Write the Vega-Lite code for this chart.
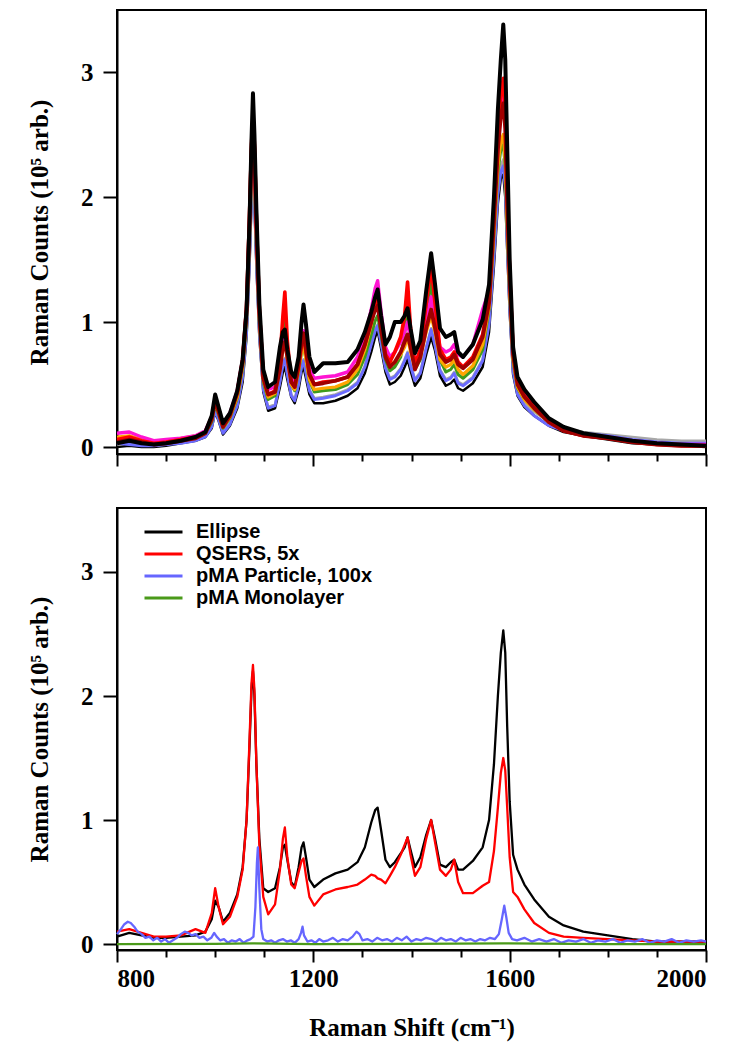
{
  "$schema": "https://vega.github.io/schema/vega-lite/v6.json",
  "background": "white",
  "padding": {"left": 26, "top": 9, "right": 20, "bottom": 4},
  "spacing": 39,
  "resolve": {"scale": {"color": "independent", "strokeWidth": "independent"}, "legend": {"color": "independent"}},
  "datasets": {
    "A": [
      {"s":"K2","x":800,"y":0.00},{"s":"K2","x":825,"y":0.01},{"s":"K2","x":850,"y":0.00},{"s":"K2","x":875,"y":0.00},{"s":"K2","x":900,"y":0.01},{"s":"K2","x":930,"y":0.03},{"s":"K2","x":960,"y":0.05},{"s":"K2","x":980,"y":0.08},{"s":"K2","x":993,"y":0.15},{"s":"K2","x":1000,"y":0.28},
      {"s":"K2","x":1007,"y":0.21},{"s":"K2","x":1016,"y":0.10},{"s":"K2","x":1030,"y":0.17},{"s":"K2","x":1045,"y":0.31},{"s":"K2","x":1056,"y":0.52},{"s":"K2","x":1064,"y":0.88},{"s":"K2","x":1070,"y":1.45},{"s":"K2","x":1074,"y":1.95},{"s":"K2","x":1077,"y":2.15},{"s":"K2","x":1080,"y":1.95},
      {"s":"K2","x":1084,"y":1.45},{"s":"K2","x":1090,"y":0.88},{"s":"K2","x":1098,"y":0.44},{"s":"K2","x":1108,"y":0.29},{"s":"K2","x":1122,"y":0.31},{"s":"K2","x":1132,"y":0.48},{"s":"K2","x":1138,"y":0.60},{"s":"K2","x":1142,"y":0.64},{"s":"K2","x":1147,"y":0.54},{"s":"K2","x":1155,"y":0.40},
      {"s":"K2","x":1162,"y":0.35},{"s":"K2","x":1170,"y":0.46},{"s":"K2","x":1176,"y":0.60},{"s":"K2","x":1180,"y":0.64},{"s":"K2","x":1185,"y":0.55},{"s":"K2","x":1192,"y":0.42},{"s":"K2","x":1202,"y":0.35},{"s":"K2","x":1220,"y":0.35},{"s":"K2","x":1245,"y":0.37},{"s":"K2","x":1270,"y":0.41},
      {"s":"K2","x":1290,"y":0.47},{"s":"K2","x":1305,"y":0.59},{"s":"K2","x":1318,"y":0.76},{"s":"K2","x":1326,"y":0.88},{"s":"K2","x":1331,"y":0.93},{"s":"K2","x":1338,"y":0.79},{"s":"K2","x":1347,"y":0.60},{"s":"K2","x":1356,"y":0.50},{"s":"K2","x":1366,"y":0.52},{"s":"K2","x":1378,"y":0.57},
      {"s":"K2","x":1386,"y":0.64},{"s":"K2","x":1392,"y":0.70},{"s":"K2","x":1398,"y":0.61},{"s":"K2","x":1407,"y":0.49},{"s":"K2","x":1418,"y":0.55},{"s":"K2","x":1430,"y":0.74},{"s":"K2","x":1440,"y":0.88},{"s":"K2","x":1448,"y":0.77},{"s":"K2","x":1458,"y":0.57},{"s":"K2","x":1470,"y":0.49},
      {"s":"K2","x":1480,"y":0.51},{"s":"K2","x":1487,"y":0.54},{"s":"K2","x":1495,"y":0.47},{"s":"K2","x":1505,"y":0.45},{"s":"K2","x":1525,"y":0.51},{"s":"K2","x":1545,"y":0.64},{"s":"K2","x":1558,"y":0.92},{"s":"K2","x":1568,"y":1.45},{"s":"K2","x":1576,"y":1.95},{"s":"K2","x":1582,"y":2.15},
      {"s":"K2","x":1587,"y":2.18},{"s":"K2","x":1591,"y":2.00},{"s":"K2","x":1595,"y":1.58},{"s":"K2","x":1600,"y":1.08},{"s":"K2","x":1607,"y":0.58},{"s":"K2","x":1616,"y":0.41},{"s":"K2","x":1630,"y":0.32},{"s":"K2","x":1650,"y":0.25},{"s":"K2","x":1680,"y":0.17},{"s":"K2","x":1710,"y":0.12},
      {"s":"K2","x":1750,"y":0.09},{"s":"K2","x":1800,"y":0.06},{"s":"K2","x":1850,"y":0.03},{"s":"K2","x":1900,"y":0.02},{"s":"K2","x":1950,"y":0.01},{"s":"K2","x":2000,"y":0.00},

      {"s":"G","x":800,"y":0.02},{"s":"G","x":825,"y":0.03},{"s":"G","x":850,"y":0.02},{"s":"G","x":875,"y":0.01},{"s":"G","x":900,"y":0.02},{"s":"G","x":930,"y":0.04},{"s":"G","x":960,"y":0.06},{"s":"G","x":980,"y":0.09},{"s":"G","x":993,"y":0.17},{"s":"G","x":1000,"y":0.30},
      {"s":"G","x":1007,"y":0.23},{"s":"G","x":1016,"y":0.12},{"s":"G","x":1030,"y":0.19},{"s":"G","x":1045,"y":0.34},{"s":"G","x":1056,"y":0.57},{"s":"G","x":1064,"y":0.93},{"s":"G","x":1070,"y":1.55},{"s":"G","x":1074,"y":2.05},{"s":"G","x":1077,"y":2.22},{"s":"G","x":1080,"y":2.02},
      {"s":"G","x":1084,"y":1.52},{"s":"G","x":1090,"y":0.93},{"s":"G","x":1098,"y":0.47},{"s":"G","x":1108,"y":0.32},{"s":"G","x":1122,"y":0.34},{"s":"G","x":1132,"y":0.53},{"s":"G","x":1138,"y":0.67},{"s":"G","x":1142,"y":0.71},{"s":"G","x":1147,"y":0.59},{"s":"G","x":1155,"y":0.42},
      {"s":"G","x":1162,"y":0.38},{"s":"G","x":1170,"y":0.51},{"s":"G","x":1176,"y":0.65},{"s":"G","x":1180,"y":0.70},{"s":"G","x":1185,"y":0.60},{"s":"G","x":1192,"y":0.46},{"s":"G","x":1202,"y":0.39},{"s":"G","x":1220,"y":0.40},{"s":"G","x":1245,"y":0.42},{"s":"G","x":1270,"y":0.46},
      {"s":"G","x":1290,"y":0.52},{"s":"G","x":1305,"y":0.65},{"s":"G","x":1318,"y":0.83},{"s":"G","x":1326,"y":0.94},{"s":"G","x":1331,"y":0.98},{"s":"G","x":1338,"y":0.84},{"s":"G","x":1347,"y":0.64},{"s":"G","x":1356,"y":0.55},{"s":"G","x":1366,"y":0.57},{"s":"G","x":1378,"y":0.63},
      {"s":"G","x":1386,"y":0.70},{"s":"G","x":1392,"y":0.76},{"s":"G","x":1398,"y":0.66},{"s":"G","x":1407,"y":0.54},{"s":"G","x":1418,"y":0.60},{"s":"G","x":1430,"y":0.80},{"s":"G","x":1440,"y":0.95},{"s":"G","x":1448,"y":0.82},{"s":"G","x":1458,"y":0.62},{"s":"G","x":1470,"y":0.54},
      {"s":"G","x":1480,"y":0.56},{"s":"G","x":1487,"y":0.60},{"s":"G","x":1495,"y":0.52},{"s":"G","x":1505,"y":0.50},{"s":"G","x":1525,"y":0.56},{"s":"G","x":1545,"y":0.70},{"s":"G","x":1558,"y":1.00},{"s":"G","x":1568,"y":1.55},{"s":"G","x":1576,"y":2.05},{"s":"G","x":1582,"y":2.25},
      {"s":"G","x":1587,"y":2.30},{"s":"G","x":1591,"y":2.12},{"s":"G","x":1595,"y":1.66},{"s":"G","x":1600,"y":1.15},{"s":"G","x":1607,"y":0.64},{"s":"G","x":1616,"y":0.45},{"s":"G","x":1630,"y":0.36},{"s":"G","x":1650,"y":0.28},{"s":"G","x":1680,"y":0.20},{"s":"G","x":1710,"y":0.15},
      {"s":"G","x":1750,"y":0.12},{"s":"G","x":1800,"y":0.10},{"s":"G","x":1850,"y":0.08},{"s":"G","x":1900,"y":0.06},{"s":"G","x":1950,"y":0.05},{"s":"G","x":2000,"y":0.05},

      {"s":"B","x":800,"y":0.03},{"s":"B","x":825,"y":0.02},{"s":"B","x":850,"y":0.01},{"s":"B","x":875,"y":0.01},{"s":"B","x":900,"y":0.02},{"s":"B","x":930,"y":0.03},{"s":"B","x":960,"y":0.05},{"s":"B","x":980,"y":0.08},{"s":"B","x":993,"y":0.16},{"s":"B","x":1000,"y":0.29},
      {"s":"B","x":1007,"y":0.22},{"s":"B","x":1016,"y":0.11},{"s":"B","x":1030,"y":0.18},{"s":"B","x":1045,"y":0.33},{"s":"B","x":1056,"y":0.56},{"s":"B","x":1064,"y":0.92},{"s":"B","x":1070,"y":1.52},{"s":"B","x":1074,"y":2.00},{"s":"B","x":1077,"y":2.18},{"s":"B","x":1080,"y":1.98},
      {"s":"B","x":1084,"y":1.50},{"s":"B","x":1090,"y":0.92},{"s":"B","x":1098,"y":0.46},{"s":"B","x":1108,"y":0.31},{"s":"B","x":1122,"y":0.33},{"s":"B","x":1132,"y":0.52},{"s":"B","x":1138,"y":0.66},{"s":"B","x":1142,"y":0.70},{"s":"B","x":1147,"y":0.58},{"s":"B","x":1155,"y":0.41},
      {"s":"B","x":1162,"y":0.37},{"s":"B","x":1170,"y":0.50},{"s":"B","x":1176,"y":0.64},{"s":"B","x":1180,"y":0.69},{"s":"B","x":1185,"y":0.59},{"s":"B","x":1192,"y":0.45},{"s":"B","x":1202,"y":0.38},{"s":"B","x":1220,"y":0.39},{"s":"B","x":1245,"y":0.41},{"s":"B","x":1270,"y":0.45},
      {"s":"B","x":1290,"y":0.51},{"s":"B","x":1305,"y":0.64},{"s":"B","x":1318,"y":0.82},{"s":"B","x":1326,"y":0.93},{"s":"B","x":1331,"y":0.97},{"s":"B","x":1338,"y":0.83},{"s":"B","x":1347,"y":0.63},{"s":"B","x":1356,"y":0.54},{"s":"B","x":1366,"y":0.56},{"s":"B","x":1378,"y":0.62},
      {"s":"B","x":1386,"y":0.69},{"s":"B","x":1392,"y":0.75},{"s":"B","x":1398,"y":0.65},{"s":"B","x":1407,"y":0.53},{"s":"B","x":1418,"y":0.59},{"s":"B","x":1430,"y":0.79},{"s":"B","x":1440,"y":0.94},{"s":"B","x":1448,"y":0.81},{"s":"B","x":1458,"y":0.61},{"s":"B","x":1470,"y":0.53},
      {"s":"B","x":1480,"y":0.55},{"s":"B","x":1487,"y":0.59},{"s":"B","x":1495,"y":0.51},{"s":"B","x":1505,"y":0.49},{"s":"B","x":1525,"y":0.55},{"s":"B","x":1545,"y":0.69},{"s":"B","x":1558,"y":0.98},{"s":"B","x":1568,"y":1.52},{"s":"B","x":1576,"y":2.02},{"s":"B","x":1582,"y":2.20},
      {"s":"B","x":1587,"y":2.25},{"s":"B","x":1591,"y":2.08},{"s":"B","x":1595,"y":1.62},{"s":"B","x":1600,"y":1.12},{"s":"B","x":1607,"y":0.60},{"s":"B","x":1616,"y":0.42},{"s":"B","x":1630,"y":0.33},{"s":"B","x":1650,"y":0.25},{"s":"B","x":1680,"y":0.17},{"s":"B","x":1710,"y":0.13},
      {"s":"B","x":1750,"y":0.11},{"s":"B","x":1800,"y":0.09},{"s":"B","x":1850,"y":0.06},{"s":"B","x":1900,"y":0.04},{"s":"B","x":1950,"y":0.03},{"s":"B","x":2000,"y":0.03},

      {"s":"Gr","x":800,"y":0.05},{"s":"Gr","x":825,"y":0.06},{"s":"Gr","x":850,"y":0.04},{"s":"Gr","x":875,"y":0.03},{"s":"Gr","x":900,"y":0.04},{"s":"Gr","x":930,"y":0.06},{"s":"Gr","x":960,"y":0.08},{"s":"Gr","x":980,"y":0.11},{"s":"Gr","x":993,"y":0.20},{"s":"Gr","x":1000,"y":0.34},
      {"s":"Gr","x":1007,"y":0.26},{"s":"Gr","x":1016,"y":0.15},{"s":"Gr","x":1030,"y":0.23},{"s":"Gr","x":1045,"y":0.39},{"s":"Gr","x":1056,"y":0.63},{"s":"Gr","x":1064,"y":1.02},{"s":"Gr","x":1070,"y":1.65},{"s":"Gr","x":1074,"y":2.15},{"s":"Gr","x":1077,"y":2.35},{"s":"Gr","x":1080,"y":2.15},
      {"s":"Gr","x":1084,"y":1.62},{"s":"Gr","x":1090,"y":1.00},{"s":"Gr","x":1098,"y":0.52},{"s":"Gr","x":1108,"y":0.38},{"s":"Gr","x":1122,"y":0.41},{"s":"Gr","x":1132,"y":0.66},{"s":"Gr","x":1138,"y":0.92},{"s":"Gr","x":1142,"y":1.05},{"s":"Gr","x":1147,"y":0.78},{"s":"Gr","x":1155,"y":0.50},
      {"s":"Gr","x":1162,"y":0.45},{"s":"Gr","x":1170,"y":0.60},{"s":"Gr","x":1176,"y":0.76},{"s":"Gr","x":1180,"y":0.82},{"s":"Gr","x":1185,"y":0.70},{"s":"Gr","x":1192,"y":0.53},{"s":"Gr","x":1202,"y":0.44},{"s":"Gr","x":1220,"y":0.45},{"s":"Gr","x":1245,"y":0.46},{"s":"Gr","x":1270,"y":0.50},
      {"s":"Gr","x":1290,"y":0.58},{"s":"Gr","x":1305,"y":0.72},{"s":"Gr","x":1318,"y":0.90},{"s":"Gr","x":1326,"y":1.01},{"s":"Gr","x":1331,"y":1.05},{"s":"Gr","x":1338,"y":0.90},{"s":"Gr","x":1347,"y":0.70},{"s":"Gr","x":1356,"y":0.61},{"s":"Gr","x":1366,"y":0.64},{"s":"Gr","x":1378,"y":0.72},
      {"s":"Gr","x":1386,"y":0.90},{"s":"Gr","x":1392,"y":1.15},{"s":"Gr","x":1398,"y":0.88},{"s":"Gr","x":1407,"y":0.62},{"s":"Gr","x":1418,"y":0.70},{"s":"Gr","x":1430,"y":1.05},{"s":"Gr","x":1440,"y":1.32},{"s":"Gr","x":1448,"y":1.05},{"s":"Gr","x":1458,"y":0.70},{"s":"Gr","x":1470,"y":0.60},
      {"s":"Gr","x":1480,"y":0.62},{"s":"Gr","x":1487,"y":0.66},{"s":"Gr","x":1495,"y":0.58},{"s":"Gr","x":1505,"y":0.55},{"s":"Gr","x":1525,"y":0.62},{"s":"Gr","x":1545,"y":0.78},{"s":"Gr","x":1558,"y":1.10},{"s":"Gr","x":1568,"y":1.70},{"s":"Gr","x":1576,"y":2.20},{"s":"Gr","x":1582,"y":2.38},
      {"s":"Gr","x":1587,"y":2.42},{"s":"Gr","x":1591,"y":2.25},{"s":"Gr","x":1595,"y":1.75},{"s":"Gr","x":1600,"y":1.22},{"s":"Gr","x":1607,"y":0.68},{"s":"Gr","x":1616,"y":0.47},{"s":"Gr","x":1630,"y":0.38},{"s":"Gr","x":1650,"y":0.30},{"s":"Gr","x":1680,"y":0.20},{"s":"Gr","x":1710,"y":0.14},
      {"s":"Gr","x":1750,"y":0.10},{"s":"Gr","x":1800,"y":0.08},{"s":"Gr","x":1850,"y":0.05},{"s":"Gr","x":1900,"y":0.03},{"s":"Gr","x":1950,"y":0.02},{"s":"Gr","x":2000,"y":0.02},

      {"s":"O","x":800,"y":0.08},{"s":"O","x":825,"y":0.09},{"s":"O","x":850,"y":0.06},{"s":"O","x":875,"y":0.04},{"s":"O","x":900,"y":0.05},{"s":"O","x":930,"y":0.07},{"s":"O","x":960,"y":0.09},{"s":"O","x":980,"y":0.12},{"s":"O","x":993,"y":0.22},{"s":"O","x":1000,"y":0.36},
      {"s":"O","x":1007,"y":0.27},{"s":"O","x":1016,"y":0.16},{"s":"O","x":1030,"y":0.24},{"s":"O","x":1045,"y":0.40},{"s":"O","x":1056,"y":0.65},{"s":"O","x":1064,"y":1.05},{"s":"O","x":1070,"y":1.70},{"s":"O","x":1074,"y":2.20},{"s":"O","x":1077,"y":2.40},{"s":"O","x":1080,"y":2.20},
      {"s":"O","x":1084,"y":1.66},{"s":"O","x":1090,"y":1.02},{"s":"O","x":1098,"y":0.54},{"s":"O","x":1108,"y":0.40},{"s":"O","x":1122,"y":0.43},{"s":"O","x":1132,"y":0.62},{"s":"O","x":1138,"y":0.80},{"s":"O","x":1142,"y":0.85},{"s":"O","x":1147,"y":0.70},{"s":"O","x":1155,"y":0.50},
      {"s":"O","x":1162,"y":0.46},{"s":"O","x":1170,"y":0.62},{"s":"O","x":1176,"y":0.77},{"s":"O","x":1180,"y":0.82},{"s":"O","x":1185,"y":0.70},{"s":"O","x":1192,"y":0.54},{"s":"O","x":1202,"y":0.46},{"s":"O","x":1220,"y":0.47},{"s":"O","x":1245,"y":0.48},{"s":"O","x":1270,"y":0.52},
      {"s":"O","x":1290,"y":0.62},{"s":"O","x":1305,"y":0.78},{"s":"O","x":1318,"y":0.98},{"s":"O","x":1326,"y":1.14},{"s":"O","x":1331,"y":1.20},{"s":"O","x":1338,"y":1.00},{"s":"O","x":1347,"y":0.76},{"s":"O","x":1356,"y":0.66},{"s":"O","x":1366,"y":0.68},{"s":"O","x":1378,"y":0.74},
      {"s":"O","x":1386,"y":0.80},{"s":"O","x":1392,"y":0.88},{"s":"O","x":1398,"y":0.76},{"s":"O","x":1407,"y":0.64},{"s":"O","x":1418,"y":0.72},{"s":"O","x":1430,"y":0.92},{"s":"O","x":1440,"y":1.05},{"s":"O","x":1448,"y":0.92},{"s":"O","x":1458,"y":0.70},{"s":"O","x":1470,"y":0.64},
      {"s":"O","x":1480,"y":0.66},{"s":"O","x":1487,"y":0.70},{"s":"O","x":1495,"y":0.62},{"s":"O","x":1505,"y":0.58},{"s":"O","x":1525,"y":0.65},{"s":"O","x":1545,"y":0.82},{"s":"O","x":1558,"y":1.12},{"s":"O","x":1568,"y":1.72},{"s":"O","x":1576,"y":2.25},{"s":"O","x":1582,"y":2.45},
      {"s":"O","x":1587,"y":2.50},{"s":"O","x":1591,"y":2.30},{"s":"O","x":1595,"y":1.80},{"s":"O","x":1600,"y":1.25},{"s":"O","x":1607,"y":0.70},{"s":"O","x":1616,"y":0.48},{"s":"O","x":1630,"y":0.38},{"s":"O","x":1650,"y":0.30},{"s":"O","x":1680,"y":0.20},{"s":"O","x":1710,"y":0.14},
      {"s":"O","x":1750,"y":0.10},{"s":"O","x":1800,"y":0.08},{"s":"O","x":1850,"y":0.05},{"s":"O","x":1900,"y":0.03},{"s":"O","x":1950,"y":0.02},{"s":"O","x":2000,"y":0.02},

      {"s":"M","x":800,"y":0.11},{"s":"M","x":825,"y":0.12},{"s":"M","x":850,"y":0.08},{"s":"M","x":875,"y":0.05},{"s":"M","x":900,"y":0.06},{"s":"M","x":930,"y":0.07},{"s":"M","x":960,"y":0.09},{"s":"M","x":980,"y":0.13},{"s":"M","x":993,"y":0.24},{"s":"M","x":1000,"y":0.38},
      {"s":"M","x":1007,"y":0.29},{"s":"M","x":1016,"y":0.18},{"s":"M","x":1030,"y":0.27},{"s":"M","x":1045,"y":0.45},{"s":"M","x":1056,"y":0.70},{"s":"M","x":1064,"y":1.10},{"s":"M","x":1070,"y":1.78},{"s":"M","x":1074,"y":2.30},{"s":"M","x":1077,"y":2.50},{"s":"M","x":1080,"y":2.30},
      {"s":"M","x":1084,"y":1.74},{"s":"M","x":1090,"y":1.08},{"s":"M","x":1098,"y":0.58},{"s":"M","x":1108,"y":0.46},{"s":"M","x":1122,"y":0.48},{"s":"M","x":1132,"y":0.68},{"s":"M","x":1138,"y":0.84},{"s":"M","x":1142,"y":0.88},{"s":"M","x":1147,"y":0.74},{"s":"M","x":1155,"y":0.55},
      {"s":"M","x":1162,"y":0.50},{"s":"M","x":1170,"y":0.68},{"s":"M","x":1176,"y":0.86},{"s":"M","x":1180,"y":0.93},{"s":"M","x":1185,"y":0.80},{"s":"M","x":1192,"y":0.62},{"s":"M","x":1202,"y":0.55},{"s":"M","x":1220,"y":0.56},{"s":"M","x":1245,"y":0.57},{"s":"M","x":1270,"y":0.60},
      {"s":"M","x":1290,"y":0.72},{"s":"M","x":1305,"y":0.88},{"s":"M","x":1318,"y":1.10},{"s":"M","x":1326,"y":1.27},{"s":"M","x":1331,"y":1.33},{"s":"M","x":1338,"y":1.08},{"s":"M","x":1347,"y":0.80},{"s":"M","x":1356,"y":0.72},{"s":"M","x":1366,"y":0.76},{"s":"M","x":1378,"y":0.84},
      {"s":"M","x":1386,"y":0.92},{"s":"M","x":1392,"y":1.00},{"s":"M","x":1398,"y":0.86},{"s":"M","x":1407,"y":0.67},{"s":"M","x":1418,"y":0.76},{"s":"M","x":1430,"y":1.00},{"s":"M","x":1440,"y":1.20},{"s":"M","x":1448,"y":1.02},{"s":"M","x":1458,"y":0.80},{"s":"M","x":1470,"y":0.76},
      {"s":"M","x":1480,"y":0.78},{"s":"M","x":1487,"y":0.82},{"s":"M","x":1495,"y":0.74},{"s":"M","x":1505,"y":0.72},{"s":"M","x":1525,"y":0.82},{"s":"M","x":1545,"y":1.10},{"s":"M","x":1558,"y":1.25},{"s":"M","x":1568,"y":1.85},{"s":"M","x":1576,"y":2.40},{"s":"M","x":1582,"y":2.70},
      {"s":"M","x":1587,"y":2.85},{"s":"M","x":1591,"y":2.62},{"s":"M","x":1595,"y":2.00},{"s":"M","x":1600,"y":1.38},{"s":"M","x":1607,"y":0.75},{"s":"M","x":1616,"y":0.52},{"s":"M","x":1630,"y":0.42},{"s":"M","x":1650,"y":0.33},{"s":"M","x":1680,"y":0.21},{"s":"M","x":1710,"y":0.14},
      {"s":"M","x":1750,"y":0.10},{"s":"M","x":1800,"y":0.08},{"s":"M","x":1850,"y":0.05},{"s":"M","x":1900,"y":0.03},{"s":"M","x":1950,"y":0.02},{"s":"M","x":2000,"y":0.02},

      {"s":"R","x":800,"y":0.06},{"s":"R","x":825,"y":0.08},{"s":"R","x":850,"y":0.05},{"s":"R","x":875,"y":0.03},{"s":"R","x":900,"y":0.04},{"s":"R","x":930,"y":0.06},{"s":"R","x":960,"y":0.08},{"s":"R","x":980,"y":0.12},{"s":"R","x":993,"y":0.24},{"s":"R","x":1000,"y":0.38},
      {"s":"R","x":1007,"y":0.29},{"s":"R","x":1016,"y":0.17},{"s":"R","x":1030,"y":0.26},{"s":"R","x":1045,"y":0.44},{"s":"R","x":1056,"y":0.70},{"s":"R","x":1064,"y":1.12},{"s":"R","x":1070,"y":1.85},{"s":"R","x":1074,"y":2.42},{"s":"R","x":1077,"y":2.65},{"s":"R","x":1080,"y":2.42},
      {"s":"R","x":1084,"y":1.82},{"s":"R","x":1090,"y":1.10},{"s":"R","x":1098,"y":0.56},{"s":"R","x":1108,"y":0.42},{"s":"R","x":1122,"y":0.45},{"s":"R","x":1132,"y":0.70},{"s":"R","x":1138,"y":1.05},{"s":"R","x":1142,"y":1.24},{"s":"R","x":1147,"y":0.85},{"s":"R","x":1155,"y":0.52},
      {"s":"R","x":1162,"y":0.48},{"s":"R","x":1170,"y":0.64},{"s":"R","x":1176,"y":0.82},{"s":"R","x":1180,"y":0.90},{"s":"R","x":1185,"y":0.76},{"s":"R","x":1192,"y":0.58},{"s":"R","x":1202,"y":0.50},{"s":"R","x":1220,"y":0.52},{"s":"R","x":1245,"y":0.53},{"s":"R","x":1270,"y":0.56},
      {"s":"R","x":1290,"y":0.66},{"s":"R","x":1305,"y":0.82},{"s":"R","x":1318,"y":1.00},{"s":"R","x":1326,"y":1.13},{"s":"R","x":1331,"y":1.18},{"s":"R","x":1338,"y":0.98},{"s":"R","x":1347,"y":0.74},{"s":"R","x":1356,"y":0.68},{"s":"R","x":1366,"y":0.76},{"s":"R","x":1378,"y":0.88},
      {"s":"R","x":1386,"y":1.05},{"s":"R","x":1392,"y":1.32},{"s":"R","x":1398,"y":0.95},{"s":"R","x":1407,"y":0.66},{"s":"R","x":1418,"y":0.78},{"s":"R","x":1430,"y":1.15},{"s":"R","x":1440,"y":1.45},{"s":"R","x":1448,"y":1.15},{"s":"R","x":1458,"y":0.78},{"s":"R","x":1470,"y":0.70},
      {"s":"R","x":1480,"y":0.72},{"s":"R","x":1487,"y":0.76},{"s":"R","x":1495,"y":0.68},{"s":"R","x":1505,"y":0.64},{"s":"R","x":1525,"y":0.72},{"s":"R","x":1545,"y":0.90},{"s":"R","x":1558,"y":1.20},{"s":"R","x":1568,"y":1.90},{"s":"R","x":1576,"y":2.50},{"s":"R","x":1582,"y":2.82},
      {"s":"R","x":1587,"y":2.95},{"s":"R","x":1591,"y":2.70},{"s":"R","x":1595,"y":2.05},{"s":"R","x":1600,"y":1.40},{"s":"R","x":1607,"y":0.76},{"s":"R","x":1616,"y":0.52},{"s":"R","x":1630,"y":0.41},{"s":"R","x":1650,"y":0.32},{"s":"R","x":1680,"y":0.20},{"s":"R","x":1710,"y":0.13},
      {"s":"R","x":1750,"y":0.09},{"s":"R","x":1800,"y":0.07},{"s":"R","x":1850,"y":0.04},{"s":"R","x":1900,"y":0.02},{"s":"R","x":1950,"y":0.01},{"s":"R","x":2000,"y":0.01},

      {"s":"D","x":800,"y":0.04},{"s":"D","x":825,"y":0.06},{"s":"D","x":850,"y":0.04},{"s":"D","x":875,"y":0.02},{"s":"D","x":900,"y":0.03},{"s":"D","x":930,"y":0.05},{"s":"D","x":960,"y":0.07},{"s":"D","x":980,"y":0.11},{"s":"D","x":993,"y":0.22},{"s":"D","x":1000,"y":0.37},
      {"s":"D","x":1007,"y":0.28},{"s":"D","x":1016,"y":0.16},{"s":"D","x":1030,"y":0.25},{"s":"D","x":1045,"y":0.43},{"s":"D","x":1056,"y":0.68},{"s":"D","x":1064,"y":1.10},{"s":"D","x":1070,"y":1.82},{"s":"D","x":1074,"y":2.38},{"s":"D","x":1077,"y":2.60},{"s":"D","x":1080,"y":2.38},
      {"s":"D","x":1084,"y":1.78},{"s":"D","x":1090,"y":1.08},{"s":"D","x":1098,"y":0.55},{"s":"D","x":1108,"y":0.42},{"s":"D","x":1122,"y":0.44},{"s":"D","x":1132,"y":0.62},{"s":"D","x":1138,"y":0.80},{"s":"D","x":1142,"y":0.84},{"s":"D","x":1147,"y":0.72},{"s":"D","x":1155,"y":0.52},
      {"s":"D","x":1162,"y":0.48},{"s":"D","x":1170,"y":0.66},{"s":"D","x":1176,"y":0.85},{"s":"D","x":1180,"y":0.91},{"s":"D","x":1185,"y":0.78},{"s":"D","x":1192,"y":0.58},{"s":"D","x":1202,"y":0.50},{"s":"D","x":1220,"y":0.51},{"s":"D","x":1245,"y":0.53},{"s":"D","x":1270,"y":0.56},
      {"s":"D","x":1290,"y":0.66},{"s":"D","x":1305,"y":0.82},{"s":"D","x":1318,"y":1.00},{"s":"D","x":1326,"y":1.10},{"s":"D","x":1331,"y":1.13},{"s":"D","x":1338,"y":0.94},{"s":"D","x":1347,"y":0.72},{"s":"D","x":1356,"y":0.64},{"s":"D","x":1366,"y":0.68},{"s":"D","x":1378,"y":0.76},
      {"s":"D","x":1386,"y":0.84},{"s":"D","x":1392,"y":0.90},{"s":"D","x":1398,"y":0.80},{"s":"D","x":1407,"y":0.62},{"s":"D","x":1418,"y":0.72},{"s":"D","x":1430,"y":0.95},{"s":"D","x":1440,"y":1.10},{"s":"D","x":1448,"y":0.95},{"s":"D","x":1458,"y":0.74},{"s":"D","x":1470,"y":0.68},
      {"s":"D","x":1480,"y":0.70},{"s":"D","x":1487,"y":0.74},{"s":"D","x":1495,"y":0.66},{"s":"D","x":1505,"y":0.63},{"s":"D","x":1525,"y":0.70},{"s":"D","x":1545,"y":0.88},{"s":"D","x":1558,"y":1.15},{"s":"D","x":1568,"y":1.80},{"s":"D","x":1576,"y":2.38},{"s":"D","x":1582,"y":2.65},
      {"s":"D","x":1587,"y":2.75},{"s":"D","x":1591,"y":2.55},{"s":"D","x":1595,"y":1.95},{"s":"D","x":1600,"y":1.35},{"s":"D","x":1607,"y":0.74},{"s":"D","x":1616,"y":0.50},{"s":"D","x":1630,"y":0.40},{"s":"D","x":1650,"y":0.31},{"s":"D","x":1680,"y":0.20},{"s":"D","x":1710,"y":0.13},
      {"s":"D","x":1750,"y":0.09},{"s":"D","x":1800,"y":0.07},{"s":"D","x":1850,"y":0.04},{"s":"D","x":1900,"y":0.02},{"s":"D","x":1950,"y":0.01},{"s":"D","x":2000,"y":0.01},

      {"s":"K1","x":800,"y":0.03},{"s":"K1","x":825,"y":0.05},{"s":"K1","x":850,"y":0.03},{"s":"K1","x":875,"y":0.02},{"s":"K1","x":900,"y":0.03},{"s":"K1","x":930,"y":0.05},{"s":"K1","x":960,"y":0.08},{"s":"K1","x":980,"y":0.12},{"s":"K1","x":993,"y":0.25},{"s":"K1","x":1000,"y":0.42},
      {"s":"K1","x":1007,"y":0.32},{"s":"K1","x":1016,"y":0.19},{"s":"K1","x":1030,"y":0.27},{"s":"K1","x":1045,"y":0.45},{"s":"K1","x":1056,"y":0.70},{"s":"K1","x":1064,"y":1.10},{"s":"K1","x":1070,"y":1.80},{"s":"K1","x":1074,"y":2.45},{"s":"K1","x":1077,"y":2.83},{"s":"K1","x":1080,"y":2.50},
      {"s":"K1","x":1084,"y":1.90},{"s":"K1","x":1090,"y":1.15},{"s":"K1","x":1098,"y":0.62},{"s":"K1","x":1108,"y":0.48},{"s":"K1","x":1122,"y":0.52},{"s":"K1","x":1132,"y":0.80},{"s":"K1","x":1138,"y":0.92},{"s":"K1","x":1142,"y":0.94},{"s":"K1","x":1147,"y":0.78},{"s":"K1","x":1155,"y":0.60},
      {"s":"K1","x":1162,"y":0.56},{"s":"K1","x":1170,"y":0.72},{"s":"K1","x":1176,"y":1.00},{"s":"K1","x":1180,"y":1.14},{"s":"K1","x":1185,"y":0.98},{"s":"K1","x":1192,"y":0.72},{"s":"K1","x":1202,"y":0.60},{"s":"K1","x":1220,"y":0.67},{"s":"K1","x":1245,"y":0.67},{"s":"K1","x":1270,"y":0.68},
      {"s":"K1","x":1290,"y":0.78},{"s":"K1","x":1305,"y":0.92},{"s":"K1","x":1318,"y":1.08},{"s":"K1","x":1326,"y":1.20},{"s":"K1","x":1331,"y":1.26},{"s":"K1","x":1338,"y":1.05},{"s":"K1","x":1347,"y":0.82},{"s":"K1","x":1356,"y":0.88},{"s":"K1","x":1366,"y":1.00},{"s":"K1","x":1378,"y":1.00},
      {"s":"K1","x":1386,"y":1.05},{"s":"K1","x":1392,"y":1.11},{"s":"K1","x":1398,"y":0.95},{"s":"K1","x":1407,"y":0.75},{"s":"K1","x":1418,"y":0.85},{"s":"K1","x":1430,"y":1.25},{"s":"K1","x":1440,"y":1.55},{"s":"K1","x":1448,"y":1.30},{"s":"K1","x":1458,"y":0.95},{"s":"K1","x":1470,"y":0.88},
      {"s":"K1","x":1480,"y":0.90},{"s":"K1","x":1487,"y":0.92},{"s":"K1","x":1495,"y":0.76},{"s":"K1","x":1505,"y":0.72},{"s":"K1","x":1525,"y":0.82},{"s":"K1","x":1545,"y":1.02},{"s":"K1","x":1558,"y":1.30},{"s":"K1","x":1568,"y":2.00},{"s":"K1","x":1576,"y":2.70},{"s":"K1","x":1582,"y":3.10},
      {"s":"K1","x":1587,"y":3.38},{"s":"K1","x":1591,"y":3.10},{"s":"K1","x":1595,"y":2.40},{"s":"K1","x":1600,"y":1.50},{"s":"K1","x":1607,"y":0.80},{"s":"K1","x":1616,"y":0.56},{"s":"K1","x":1630,"y":0.46},{"s":"K1","x":1650,"y":0.36},{"s":"K1","x":1680,"y":0.23},{"s":"K1","x":1710,"y":0.16},
      {"s":"K1","x":1750,"y":0.11},{"s":"K1","x":1800,"y":0.08},{"s":"K1","x":1850,"y":0.05},{"s":"K1","x":1900,"y":0.03},{"s":"K1","x":1950,"y":0.02},{"s":"K1","x":2000,"y":0.01}
    ],
    "Bp": [
      {"s":"Ellipse","x":800,"y":0.06},{"s":"Ellipse","x":825,"y":0.09},{"s":"Ellipse","x":850,"y":0.07},{"s":"Ellipse","x":875,"y":0.05},{"s":"Ellipse","x":900,"y":0.05},{"s":"Ellipse","x":930,"y":0.06},{"s":"Ellipse","x":960,"y":0.07},{"s":"Ellipse","x":980,"y":0.10},{"s":"Ellipse","x":993,"y":0.20},{"s":"Ellipse","x":1000,"y":0.35},
      {"s":"Ellipse","x":1007,"y":0.30},{"s":"Ellipse","x":1016,"y":0.18},{"s":"Ellipse","x":1030,"y":0.25},{"s":"Ellipse","x":1045,"y":0.40},{"s":"Ellipse","x":1056,"y":0.62},{"s":"Ellipse","x":1064,"y":1.00},{"s":"Ellipse","x":1070,"y":1.60},{"s":"Ellipse","x":1074,"y":2.05},{"s":"Ellipse","x":1077,"y":2.20},{"s":"Ellipse","x":1080,"y":2.00},
      {"s":"Ellipse","x":1084,"y":1.45},{"s":"Ellipse","x":1090,"y":0.85},{"s":"Ellipse","x":1098,"y":0.45},{"s":"Ellipse","x":1108,"y":0.42},{"s":"Ellipse","x":1122,"y":0.45},{"s":"Ellipse","x":1132,"y":0.62},{"s":"Ellipse","x":1138,"y":0.78},{"s":"Ellipse","x":1142,"y":0.80},{"s":"Ellipse","x":1147,"y":0.68},{"s":"Ellipse","x":1155,"y":0.50},
      {"s":"Ellipse","x":1162,"y":0.46},{"s":"Ellipse","x":1170,"y":0.62},{"s":"Ellipse","x":1176,"y":0.78},{"s":"Ellipse","x":1180,"y":0.82},{"s":"Ellipse","x":1185,"y":0.70},{"s":"Ellipse","x":1192,"y":0.52},{"s":"Ellipse","x":1202,"y":0.46},{"s":"Ellipse","x":1220,"y":0.52},{"s":"Ellipse","x":1245,"y":0.57},{"s":"Ellipse","x":1270,"y":0.60},
      {"s":"Ellipse","x":1290,"y":0.66},{"s":"Ellipse","x":1305,"y":0.78},{"s":"Ellipse","x":1318,"y":0.98},{"s":"Ellipse","x":1326,"y":1.08},{"s":"Ellipse","x":1331,"y":1.10},{"s":"Ellipse","x":1338,"y":0.92},{"s":"Ellipse","x":1347,"y":0.68},{"s":"Ellipse","x":1356,"y":0.62},{"s":"Ellipse","x":1366,"y":0.66},{"s":"Ellipse","x":1378,"y":0.73},
      {"s":"Ellipse","x":1386,"y":0.78},{"s":"Ellipse","x":1392,"y":0.86},{"s":"Ellipse","x":1398,"y":0.76},{"s":"Ellipse","x":1407,"y":0.62},{"s":"Ellipse","x":1418,"y":0.70},{"s":"Ellipse","x":1430,"y":0.88},{"s":"Ellipse","x":1440,"y":1.00},{"s":"Ellipse","x":1448,"y":0.85},{"s":"Ellipse","x":1458,"y":0.64},{"s":"Ellipse","x":1470,"y":0.62},
      {"s":"Ellipse","x":1480,"y":0.66},{"s":"Ellipse","x":1487,"y":0.68},{"s":"Ellipse","x":1495,"y":0.60},{"s":"Ellipse","x":1505,"y":0.60},{"s":"Ellipse","x":1525,"y":0.67},{"s":"Ellipse","x":1545,"y":0.78},{"s":"Ellipse","x":1558,"y":1.00},{"s":"Ellipse","x":1568,"y":1.45},{"s":"Ellipse","x":1576,"y":2.00},{"s":"Ellipse","x":1582,"y":2.35},
      {"s":"Ellipse","x":1587,"y":2.53},{"s":"Ellipse","x":1591,"y":2.35},{"s":"Ellipse","x":1595,"y":1.75},{"s":"Ellipse","x":1600,"y":1.15},{"s":"Ellipse","x":1607,"y":0.72},{"s":"Ellipse","x":1616,"y":0.60},{"s":"Ellipse","x":1630,"y":0.48},{"s":"Ellipse","x":1650,"y":0.36},{"s":"Ellipse","x":1680,"y":0.22},{"s":"Ellipse","x":1710,"y":0.15},
      {"s":"Ellipse","x":1750,"y":0.10},{"s":"Ellipse","x":1800,"y":0.07},{"s":"Ellipse","x":1850,"y":0.04},{"s":"Ellipse","x":1900,"y":0.02},{"s":"Ellipse","x":1950,"y":0.02},{"s":"Ellipse","x":2000,"y":0.02},

      {"s":"QSERS, 5x","x":800,"y":0.10},{"s":"QSERS, 5x","x":825,"y":0.12},{"s":"QSERS, 5x","x":850,"y":0.09},{"s":"QSERS, 5x","x":875,"y":0.06},{"s":"QSERS, 5x","x":900,"y":0.06},{"s":"QSERS, 5x","x":930,"y":0.07},{"s":"QSERS, 5x","x":960,"y":0.12},{"s":"QSERS, 5x","x":980,"y":0.09},{"s":"QSERS, 5x","x":993,"y":0.25},{"s":"QSERS, 5x","x":1000,"y":0.45},
      {"s":"QSERS, 5x","x":1007,"y":0.30},{"s":"QSERS, 5x","x":1016,"y":0.16},{"s":"QSERS, 5x","x":1030,"y":0.22},{"s":"QSERS, 5x","x":1045,"y":0.38},{"s":"QSERS, 5x","x":1056,"y":0.60},{"s":"QSERS, 5x","x":1064,"y":1.00},{"s":"QSERS, 5x","x":1070,"y":1.65},{"s":"QSERS, 5x","x":1074,"y":2.10},{"s":"QSERS, 5x","x":1077,"y":2.25},{"s":"QSERS, 5x","x":1080,"y":2.05},
      {"s":"QSERS, 5x","x":1084,"y":1.45},{"s":"QSERS, 5x","x":1090,"y":0.80},{"s":"QSERS, 5x","x":1098,"y":0.38},{"s":"QSERS, 5x","x":1108,"y":0.24},{"s":"QSERS, 5x","x":1122,"y":0.32},{"s":"QSERS, 5x","x":1132,"y":0.60},{"s":"QSERS, 5x","x":1138,"y":0.85},{"s":"QSERS, 5x","x":1142,"y":0.94},{"s":"QSERS, 5x","x":1147,"y":0.70},{"s":"QSERS, 5x","x":1155,"y":0.48},
      {"s":"QSERS, 5x","x":1162,"y":0.45},{"s":"QSERS, 5x","x":1170,"y":0.58},{"s":"QSERS, 5x","x":1176,"y":0.67},{"s":"QSERS, 5x","x":1180,"y":0.69},{"s":"QSERS, 5x","x":1185,"y":0.55},{"s":"QSERS, 5x","x":1192,"y":0.38},{"s":"QSERS, 5x","x":1202,"y":0.31},{"s":"QSERS, 5x","x":1220,"y":0.40},{"s":"QSERS, 5x","x":1245,"y":0.44},{"s":"QSERS, 5x","x":1270,"y":0.46},
      {"s":"QSERS, 5x","x":1290,"y":0.48},{"s":"QSERS, 5x","x":1305,"y":0.52},{"s":"QSERS, 5x","x":1318,"y":0.56},{"s":"QSERS, 5x","x":1326,"y":0.55},{"s":"QSERS, 5x","x":1331,"y":0.53},{"s":"QSERS, 5x","x":1338,"y":0.52},{"s":"QSERS, 5x","x":1347,"y":0.49},{"s":"QSERS, 5x","x":1356,"y":0.55},{"s":"QSERS, 5x","x":1366,"y":0.62},{"s":"QSERS, 5x","x":1378,"y":0.72},
      {"s":"QSERS, 5x","x":1386,"y":0.80},{"s":"QSERS, 5x","x":1392,"y":0.86},{"s":"QSERS, 5x","x":1398,"y":0.72},{"s":"QSERS, 5x","x":1407,"y":0.55},{"s":"QSERS, 5x","x":1418,"y":0.62},{"s":"QSERS, 5x","x":1430,"y":0.85},{"s":"QSERS, 5x","x":1440,"y":1.00},{"s":"QSERS, 5x","x":1448,"y":0.82},{"s":"QSERS, 5x","x":1458,"y":0.60},{"s":"QSERS, 5x","x":1470,"y":0.55},
      {"s":"QSERS, 5x","x":1480,"y":0.60},{"s":"QSERS, 5x","x":1487,"y":0.68},{"s":"QSERS, 5x","x":1495,"y":0.50},{"s":"QSERS, 5x","x":1505,"y":0.41},{"s":"QSERS, 5x","x":1525,"y":0.41},{"s":"QSERS, 5x","x":1545,"y":0.47},{"s":"QSERS, 5x","x":1558,"y":0.50},{"s":"QSERS, 5x","x":1568,"y":0.75},{"s":"QSERS, 5x","x":1576,"y":1.10},{"s":"QSERS, 5x","x":1582,"y":1.38},
      {"s":"QSERS, 5x","x":1587,"y":1.50},{"s":"QSERS, 5x","x":1591,"y":1.40},{"s":"QSERS, 5x","x":1595,"y":1.10},{"s":"QSERS, 5x","x":1600,"y":0.70},{"s":"QSERS, 5x","x":1607,"y":0.42},{"s":"QSERS, 5x","x":1616,"y":0.38},{"s":"QSERS, 5x","x":1630,"y":0.28},{"s":"QSERS, 5x","x":1650,"y":0.17},{"s":"QSERS, 5x","x":1680,"y":0.09},{"s":"QSERS, 5x","x":1710,"y":0.06},
      {"s":"QSERS, 5x","x":1750,"y":0.05},{"s":"QSERS, 5x","x":1800,"y":0.04},{"s":"QSERS, 5x","x":1850,"y":0.03},{"s":"QSERS, 5x","x":1900,"y":0.02},{"s":"QSERS, 5x","x":1950,"y":0.02},{"s":"QSERS, 5x","x":2000,"y":0.02},

      {"s":"pMA Particle, 100x","x":800,"y":0.08},{"s":"pMA Particle, 100x","x":808,"y":0.12},{"s":"pMA Particle, 100x","x":815,"y":0.16},{"s":"pMA Particle, 100x","x":822,"y":0.18},{"s":"pMA Particle, 100x","x":828,"y":0.17},{"s":"pMA Particle, 100x","x":835,"y":0.14},{"s":"pMA Particle, 100x","x":842,"y":0.10},{"s":"pMA Particle, 100x","x":850,"y":0.08},{"s":"pMA Particle, 100x","x":858,"y":0.05},{"s":"pMA Particle, 100x","x":866,"y":0.06},
      {"s":"pMA Particle, 100x","x":874,"y":0.03},{"s":"pMA Particle, 100x","x":882,"y":0.05},{"s":"pMA Particle, 100x","x":890,"y":0.02},{"s":"pMA Particle, 100x","x":898,"y":0.04},{"s":"pMA Particle, 100x","x":906,"y":0.01},{"s":"pMA Particle, 100x","x":914,"y":0.03},{"s":"pMA Particle, 100x","x":922,"y":0.05},{"s":"pMA Particle, 100x","x":930,"y":0.08},{"s":"pMA Particle, 100x","x":938,"y":0.10},{"s":"pMA Particle, 100x","x":945,"y":0.09},
      {"s":"pMA Particle, 100x","x":952,"y":0.07},{"s":"pMA Particle, 100x","x":960,"y":0.08},{"s":"pMA Particle, 100x","x":968,"y":0.05},{"s":"pMA Particle, 100x","x":976,"y":0.06},{"s":"pMA Particle, 100x","x":984,"y":0.03},{"s":"pMA Particle, 100x","x":992,"y":0.05},{"s":"pMA Particle, 100x","x":998,"y":0.09},{"s":"pMA Particle, 100x","x":1003,"y":0.06},{"s":"pMA Particle, 100x","x":1010,"y":0.03},{"s":"pMA Particle, 100x","x":1018,"y":0.04},
      {"s":"pMA Particle, 100x","x":1026,"y":0.01},{"s":"pMA Particle, 100x","x":1034,"y":0.03},{"s":"pMA Particle, 100x","x":1042,"y":0.02},{"s":"pMA Particle, 100x","x":1050,"y":0.04},{"s":"pMA Particle, 100x","x":1058,"y":0.01},{"s":"pMA Particle, 100x","x":1066,"y":0.03},{"s":"pMA Particle, 100x","x":1072,"y":0.04},{"s":"pMA Particle, 100x","x":1078,"y":0.06},{"s":"pMA Particle, 100x","x":1082,"y":0.30},{"s":"pMA Particle, 100x","x":1085,"y":0.65},
      {"s":"pMA Particle, 100x","x":1087,"y":0.78},{"s":"pMA Particle, 100x","x":1090,"y":0.45},{"s":"pMA Particle, 100x","x":1094,"y":0.12},{"s":"pMA Particle, 100x","x":1098,"y":0.04},{"s":"pMA Particle, 100x","x":1106,"y":0.02},{"s":"pMA Particle, 100x","x":1114,"y":0.03},{"s":"pMA Particle, 100x","x":1122,"y":0.01},{"s":"pMA Particle, 100x","x":1130,"y":0.03},{"s":"pMA Particle, 100x","x":1138,"y":0.04},{"s":"pMA Particle, 100x","x":1146,"y":0.02},
      {"s":"pMA Particle, 100x","x":1154,"y":0.03},{"s":"pMA Particle, 100x","x":1162,"y":0.01},{"s":"pMA Particle, 100x","x":1170,"y":0.04},{"s":"pMA Particle, 100x","x":1175,"y":0.09},{"s":"pMA Particle, 100x","x":1178,"y":0.14},{"s":"pMA Particle, 100x","x":1181,"y":0.07},{"s":"pMA Particle, 100x","x":1188,"y":0.02},{"s":"pMA Particle, 100x","x":1196,"y":0.03},{"s":"pMA Particle, 100x","x":1204,"y":0.01},{"s":"pMA Particle, 100x","x":1212,"y":0.04},
      {"s":"pMA Particle, 100x","x":1220,"y":0.02},{"s":"pMA Particle, 100x","x":1230,"y":0.03},{"s":"pMA Particle, 100x","x":1240,"y":0.05},{"s":"pMA Particle, 100x","x":1250,"y":0.02},{"s":"pMA Particle, 100x","x":1260,"y":0.04},{"s":"pMA Particle, 100x","x":1270,"y":0.03},{"s":"pMA Particle, 100x","x":1280,"y":0.06},{"s":"pMA Particle, 100x","x":1288,"y":0.10},{"s":"pMA Particle, 100x","x":1294,"y":0.08},{"s":"pMA Particle, 100x","x":1300,"y":0.03},
      {"s":"pMA Particle, 100x","x":1310,"y":0.04},{"s":"pMA Particle, 100x","x":1320,"y":0.02},{"s":"pMA Particle, 100x","x":1330,"y":0.05},{"s":"pMA Particle, 100x","x":1340,"y":0.03},{"s":"pMA Particle, 100x","x":1350,"y":0.04},{"s":"pMA Particle, 100x","x":1360,"y":0.02},{"s":"pMA Particle, 100x","x":1370,"y":0.05},{"s":"pMA Particle, 100x","x":1380,"y":0.03},{"s":"pMA Particle, 100x","x":1390,"y":0.06},{"s":"pMA Particle, 100x","x":1400,"y":0.02},
      {"s":"pMA Particle, 100x","x":1410,"y":0.04},{"s":"pMA Particle, 100x","x":1420,"y":0.03},{"s":"pMA Particle, 100x","x":1430,"y":0.05},{"s":"pMA Particle, 100x","x":1440,"y":0.04},{"s":"pMA Particle, 100x","x":1450,"y":0.02},{"s":"pMA Particle, 100x","x":1460,"y":0.05},{"s":"pMA Particle, 100x","x":1470,"y":0.03},{"s":"pMA Particle, 100x","x":1480,"y":0.04},{"s":"pMA Particle, 100x","x":1490,"y":0.02},{"s":"pMA Particle, 100x","x":1500,"y":0.05},
      {"s":"pMA Particle, 100x","x":1510,"y":0.03},{"s":"pMA Particle, 100x","x":1520,"y":0.04},{"s":"pMA Particle, 100x","x":1530,"y":0.02},{"s":"pMA Particle, 100x","x":1540,"y":0.04},{"s":"pMA Particle, 100x","x":1550,"y":0.03},{"s":"pMA Particle, 100x","x":1560,"y":0.05},{"s":"pMA Particle, 100x","x":1570,"y":0.04},{"s":"pMA Particle, 100x","x":1578,"y":0.08},{"s":"pMA Particle, 100x","x":1584,"y":0.20},{"s":"pMA Particle, 100x","x":1589,"y":0.31},
      {"s":"pMA Particle, 100x","x":1593,"y":0.22},{"s":"pMA Particle, 100x","x":1598,"y":0.09},{"s":"pMA Particle, 100x","x":1605,"y":0.04},{"s":"pMA Particle, 100x","x":1615,"y":0.03},{"s":"pMA Particle, 100x","x":1630,"y":0.05},{"s":"pMA Particle, 100x","x":1645,"y":0.02},{"s":"pMA Particle, 100x","x":1660,"y":0.04},{"s":"pMA Particle, 100x","x":1675,"y":0.02},{"s":"pMA Particle, 100x","x":1690,"y":0.04},{"s":"pMA Particle, 100x","x":1705,"y":0.01},
      {"s":"pMA Particle, 100x","x":1720,"y":0.03},{"s":"pMA Particle, 100x","x":1735,"y":0.02},{"s":"pMA Particle, 100x","x":1750,"y":0.04},{"s":"pMA Particle, 100x","x":1765,"y":0.01},{"s":"pMA Particle, 100x","x":1780,"y":0.03},{"s":"pMA Particle, 100x","x":1795,"y":0.02},{"s":"pMA Particle, 100x","x":1810,"y":0.04},{"s":"pMA Particle, 100x","x":1825,"y":0.01},{"s":"pMA Particle, 100x","x":1840,"y":0.03},{"s":"pMA Particle, 100x","x":1855,"y":0.02},
      {"s":"pMA Particle, 100x","x":1870,"y":0.04},{"s":"pMA Particle, 100x","x":1885,"y":0.01},{"s":"pMA Particle, 100x","x":1900,"y":0.03},{"s":"pMA Particle, 100x","x":1915,"y":0.02},{"s":"pMA Particle, 100x","x":1930,"y":0.04},{"s":"pMA Particle, 100x","x":1945,"y":0.01},{"s":"pMA Particle, 100x","x":1960,"y":0.03},{"s":"pMA Particle, 100x","x":1975,"y":0.02},{"s":"pMA Particle, 100x","x":1990,"y":0.03},{"s":"pMA Particle, 100x","x":2000,"y":0.02},

      {"s":"pMA Monolayer","x":800,"y":0.0},{"s":"pMA Monolayer","x":1000,"y":0.002},{"s":"pMA Monolayer","x":1077,"y":0.006},{"s":"pMA Monolayer","x":1200,"y":0.0},{"s":"pMA Monolayer","x":1400,"y":0.002},{"s":"pMA Monolayer","x":1588,"y":0.006},{"s":"pMA Monolayer","x":1800,"y":0.0},{"s":"pMA Monolayer","x":2000,"y":0.0}
    ]
  },
  "vconcat": [
    {
      "width": 589,
      "height": 444,
      "layer": [
        {
          "data": {"name": "A"},
          "mark": {"type": "line", "strokeJoin": "round"},
          "encoding": {
            "x": {"field": "x", "type": "quantitative", "scale": {"domain": [800, 2000], "nice": false, "zero": false},
                  "axis": {"values": [800,900,1000,1100,1200,1300,1400,1500,1600,1700,1800,1900,2000], "labels": false, "title": null,
                           "tickSize": {"condition": {"test": "datum.value % 400 === 0", "value": 12}, "value": 7}}},
            "y": {"field": "y", "type": "quantitative", "scale": {"domain": [-0.056, 3.496], "nice": false, "zero": false},
                  "axis": {"values": [0,1,2,3], "format": "d", "title": "Raman Counts (10⁵ arb.)"}},
            "color": {"field": "s", "type": "nominal", "legend": null,
                      "scale": {"domain": ["K2","G","B","Gr","O","M","R","D","K1"], "range": ["#000000","#a8a8a8","#6b6bff","#3e9a1c","#ffa500","#ff14d2","#ff0000","#a00000","#000000"]}},
            "strokeWidth": {"field": "s", "type": "nominal", "legend": null,
                      "scale": {"domain": ["K2","G","B","Gr","O","M","R","D","K1"], "range": [2.5,4,2.5,2.5,2.5,2.5,2.5,2.5,2.5]}}
          }
        },
        {
          "mark": {"type": "text", "text": "(a)", "align": "right", "baseline": "middle", "font": "Liberation Serif", "fontWeight": "bold", "fontSize": 27, "color": "#000"},
          "encoding": {"x": {"datum": 1969}, "y": {"datum": 3.22}}
        }
      ]
    },
    {
      "width": 589,
      "height": 442,
      "layer": [
        {
          "data": {"name": "Bp"},
          "mark": {"type": "line", "strokeWidth": 2.3, "strokeJoin": "round"},
          "encoding": {
            "x": {"field": "x", "type": "quantitative", "scale": {"domain": [800, 2000], "nice": false, "zero": false},
                  "axis": {"values": [800,900,1000,1100,1200,1300,1400,1500,1600,1700,1800,1900,2000], "title": "Raman Shift (cm⁻¹)",
                           "labelExpr": "datum.value % 400 === 0 ? datum.label : ''", "format": "d", "labelPadding": 4, "titlePadding": 24,
                           "tickSize": {"condition": {"test": "datum.value % 400 === 0", "value": 12}, "value": 7}}},
            "y": {"field": "y", "type": "quantitative", "scale": {"domain": [-0.048, 3.516], "nice": false, "zero": false},
                  "axis": {"values": [0,1,2,3], "format": "d", "title": "Raman Counts (10⁵ arb.)"}},
            "color": {"field": "s", "type": "nominal",
                      "scale": {"domain": ["Ellipse","QSERS, 5x","pMA Particle, 100x","pMA Monolayer"], "range": ["#000000","#ff0000","#6666ff","#4a9a1a"]},
                      "legend": {"title": null, "orient": "none", "legendX": 26, "legendY": 15, "padding": 0,
                                 "symbolType": "stroke", "symbolStrokeWidth": 3, "symbolSize": 1444, "symbolOffset": 0,
                                 "labelFont": "Liberation Sans", "labelFontWeight": "bold", "labelFontSize": 20, "labelColor": "#000", "labelOffset": 12,
                                 "clipHeight": 18, "rowPadding": 2, "labelLimit": 300}}
          }
        },
        {
          "mark": {"type": "text", "text": "(b)", "align": "right", "baseline": "middle", "font": "Liberation Serif", "fontWeight": "bold", "fontSize": 27, "color": "#000"},
          "encoding": {"x": {"datum": 1969}, "y": {"datum": 3.25}}
        }
      ]
    }
  ],
  "config": {
    "view": {"stroke": "#000", "strokeWidth": 2},
    "axis": {
      "grid": false, "domainColor": "#000", "domainWidth": 2, "tickColor": "#000", "tickWidth": 2,
      "labelFont": "Liberation Serif", "labelFontWeight": "bold", "labelFontSize": 25, "labelColor": "#000",
      "titleFont": "Liberation Serif", "titleFontWeight": "bold", "titleFontSize": 25, "titleColor": "#000"
    },
    "axisY": {"tickSize": 14, "labelPadding": 10, "titlePadding": 28}
  }
}
